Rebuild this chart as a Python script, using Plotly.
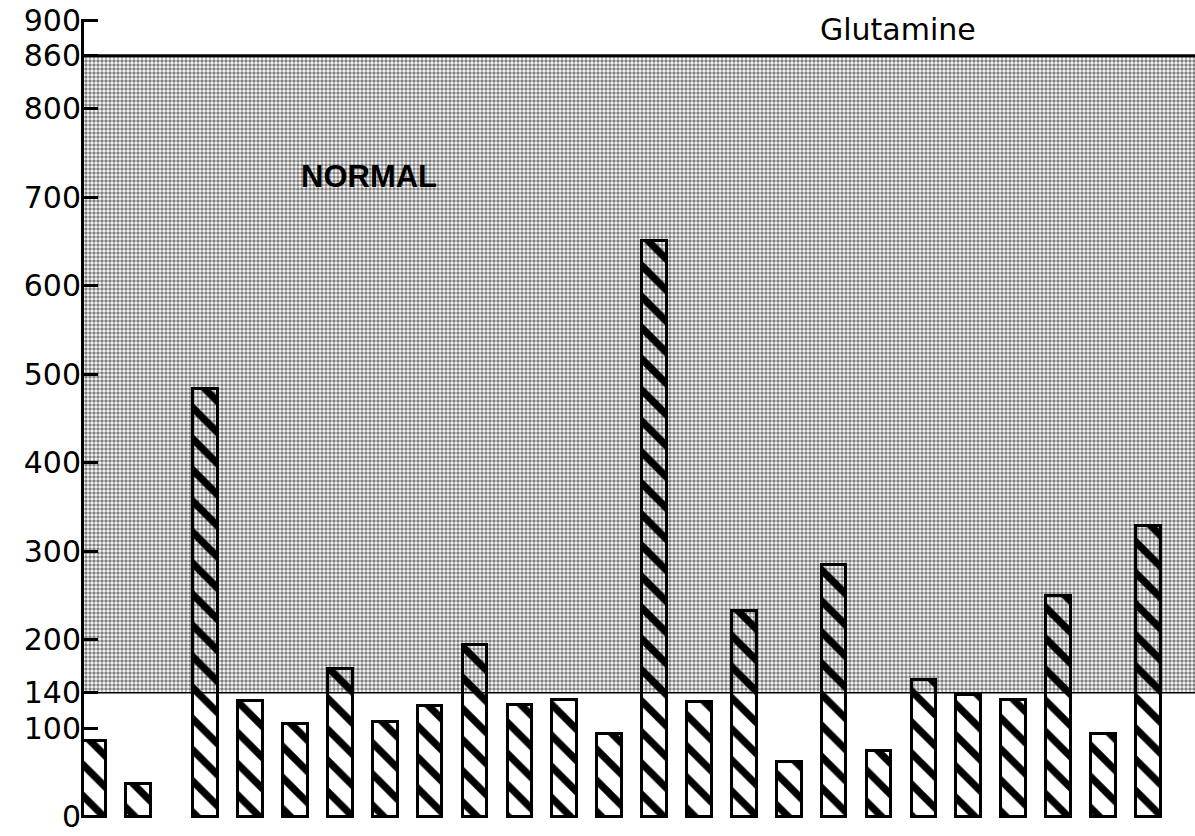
import plotly.graph_objects as go

# ---- data ----
subjects = list(range(1, 25))
glutamine = [86, 37, 483, 131, 105, 167, 107, 125, 194, 126, 132, 93,
             651, 130, 232, 62, 284, 74, 155, 138, 132, 249, 93, 329]
normal_low = 140
normal_high = 860
tick_values = [0, 100, 140, 200, 300, 400, 500, 600, 700, 800, 860, 900]
tick_labels = ["0", "100", "140", "200", "300", "400", "500", "600", "700", "800", "860", "900"]
title_text = "Glutamine"
band_text = "NORMAL"

# ---- layout helpers ----
gap_after = 2  # a half-slot gap follows the second subject
xpos = [s - 1 if s <= gap_after else s - 0.5 for s in subjects]
x_range = [-0.21, 24.54]
y_range = [-1.5, 901.5]

fig = go.Figure()

# normal range band (dotted screen), drawn as a bar so data bars overlay it
fig.add_trace(go.Bar(
    x=[(x_range[0] + x_range[1]) / 2], y=[normal_high - normal_low],
    base=[normal_low], width=[x_range[1] - x_range[0]],
    marker=dict(color="white", line=dict(width=0),
                pattern=dict(shape=".", fgcolor="black", bgcolor="white",
                             size=4, solidity=0.6)),
    hoverinfo="skip", showlegend=False,
))

# hatched bars
fig.add_trace(go.Bar(
    x=xpos, y=glutamine, width=0.55,
    marker=dict(
        color="rgba(0,0,0,0)",
        line=dict(color="black", width=3),
        pattern=dict(shape="\\", fgcolor="black", bgcolor="rgba(0,0,0,0)",
                     size=22, solidity=0.33, fillmode="replace"),
    ),
    showlegend=False, hovertext=[f"Subject {s}" for s in subjects],
))

fig.add_shape(type="line", xref="paper", x0=0, x1=1, yref="y",
              y0=normal_high, y1=normal_high, line=dict(color="black", width=3),
              layer="above")
fig.add_shape(type="line", xref="paper", x0=0, x1=1, yref="y",
              y0=normal_low, y1=normal_low, line=dict(color="black", width=1.5),
              layer="above")

fig.add_annotation(text=title_text, xref="paper", yref="paper",
                   x=0.733, y=0.987, xanchor="center", yanchor="middle",
                   showarrow=False,
                   font=dict(family="DejaVu Sans", size=30, color="black"))
fig.add_annotation(text=f"<b>{band_text}</b>", xref="x", yref="y",
                   x=6.13, y=724, xanchor="center", yanchor="middle",
                   showarrow=False,
                   font=dict(family="Liberation Sans", size=31, color="black"))

fig.update_layout(
    width=1195, height=836,
    margin=dict(l=84, r=0, t=19, b=18),
    paper_bgcolor="white", plot_bgcolor="white",
    barmode="overlay", bargap=0,
    xaxis=dict(range=x_range, visible=False, showgrid=False, zeroline=False),
    yaxis=dict(range=y_range, tickvals=tick_values, ticktext=tick_labels,
               automargin=False, ticklabeloverflow="allow",
               ticklabelstandoff=-6,
               showgrid=False, zeroline=False, showline=True,
               linecolor="black", linewidth=3,
               ticks="inside", ticklen=14, tickwidth=2.5, tickcolor="black",
               tickfont=dict(family="DejaVu Sans", size=30, color="black")),
)

fig.write_html("out.html",
               config={"displayModeBar": False},
               post_script="document.body.style.margin='0';")
